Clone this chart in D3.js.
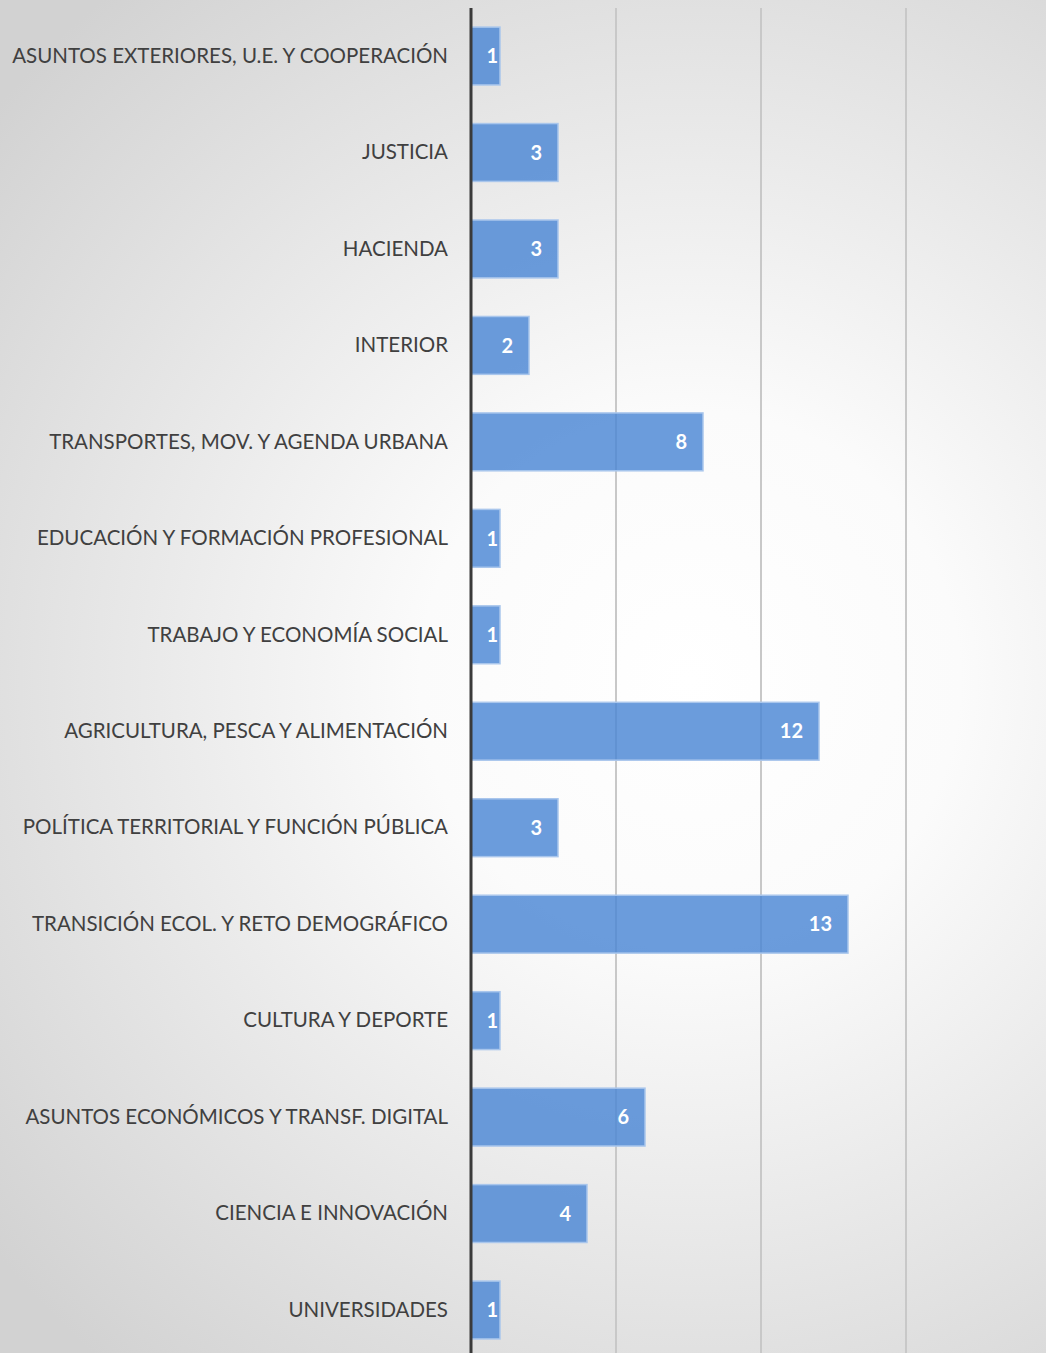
<!DOCTYPE html>
<html>
<head>
<meta charset="utf-8"/>
<title>Ministerios</title>
<style>
    body, html {
        margin: 0;
        padding: 0;
        overflow: hidden;
    }
    svg {
        display: block;
    }
    .cat-label {
        font-family: Lato, 'Open Sans', sans-serif;
        font-size: 20.5px;
        fill: #404040;
    }
    .val-label {
        font-family: Lato, 'Open Sans', sans-serif;
        font-size: 20px;
        font-weight: bold;
        fill: #ffffff;
    }
</style>
<script src="https://cdnjs.cloudflare.com/ajax/libs/d3/7.8.5/d3.min.js"></script>
</head>
<body>
<svg id="viz" width="1046" height="1353"></svg>
<script>
const categories = [
    'ASUNTOS EXTERIORES, U.E. Y COOPERACIÓN',
    'JUSTICIA',
    'HACIENDA',
    'INTERIOR',
    'TRANSPORTES, MOV. Y AGENDA URBANA',
    'EDUCACIÓN Y FORMACIÓN PROFESIONAL',
    'TRABAJO Y ECONOMÍA SOCIAL',
    'AGRICULTURA, PESCA Y ALIMENTACIÓN',
    'POLÍTICA TERRITORIAL Y FUNCIÓN PÚBLICA',
    'TRANSICIÓN ECOL. Y RETO DEMOGRÁFICO',
    'CULTURA Y DEPORTE',
    'ASUNTOS ECONÓMICOS Y TRANSF. DIGITAL',
    'CIENCIA E INNOVACIÓN',
    'UNIVERSIDADES'
];
const values = [1, 3, 3, 2, 8, 1, 1, 12, 3, 13, 1, 6, 4, 1];
const gridTicks = [5, 10, 15];

const svg = d3.select('#viz'),
    width = +svg.attr('width'),
    height = +svg.attr('height');

// background: soft radial gradient
const defs = svg.append('defs');
const grad = defs.append('radialGradient')
    .attr('id', 'bg')
    .attr('gradientUnits', 'userSpaceOnUse')
    .attr('cx', 690).attr('cy', 680).attr('r', 900);
grad.append('stop').attr('offset', '0%').attr('stop-color', '#ffffff');
grad.append('stop').attr('offset', '30%').attr('stop-color', '#fbfbfb');
grad.append('stop').attr('offset', '100%').attr('stop-color', '#d2d2d2');

svg.append('rect')
    .attr('width', width).attr('height', height)
    .attr('fill', 'url(#bg)');

const x0 = 471;
const x = d3.scaleLinear().domain([0, 20]).range([x0, x0 + 580]);
const y = d3.scaleBand()
    .domain(categories)
    .range([7.8, 7.8 + 14 * 96.46])
    .paddingInner(0.4)
    .paddingOuter(0.2);

const plotTop = 8;

// gridlines
svg.append('g')
    .selectAll('line')
    .data(gridTicks)
    .enter().append('line')
    .attr('x1', d => x(d)).attr('x2', d => x(d))
    .attr('y1', plotTop).attr('y2', height)
    .attr('stroke', '#c8c8c8')
    .attr('stroke-width', 2);

// bars
svg.append('g')
    .selectAll('rect')
    .data(values)
    .enter().append('rect')
    .attr('x', x(0))
    .attr('y', (d, i) => y(categories[i]))
    .attr('width', d => x(d) - x(0))
    .attr('height', y.bandwidth())
    .attr('fill', '#4a86d4')
    .attr('fill-opacity', 0.82)
    .attr('stroke', '#a9c6ec')
    .attr('stroke-width', 1.5);

// value labels
svg.append('g')
    .selectAll('text')
    .data(values)
    .enter().append('text')
    .attr('class', 'val-label')
    .attr('x', d => Math.max(x(d) - 16, x(0) + 27))
    .attr('y', (d, i) => y(categories[i]) + y.bandwidth() / 2)
    .attr('dy', '0.36em')
    .attr('text-anchor', 'end')
    .text(d => d);

// category labels
svg.append('g')
    .selectAll('text')
    .data(categories)
    .enter().append('text')
    .attr('class', 'cat-label')
    .attr('x', 448)
    .attr('y', d => y(d) + y.bandwidth() / 2)
    .attr('dy', '0.33em')
    .attr('text-anchor', 'end')
    .text(d => d);

// vertical axis line
svg.append('line')
    .attr('x1', x(0)).attr('x2', x(0))
    .attr('y1', plotTop).attr('y2', height)
    .attr('stroke', '#3a3a3a')
    .attr('stroke-width', 3);
</script>
</body>
</html>
